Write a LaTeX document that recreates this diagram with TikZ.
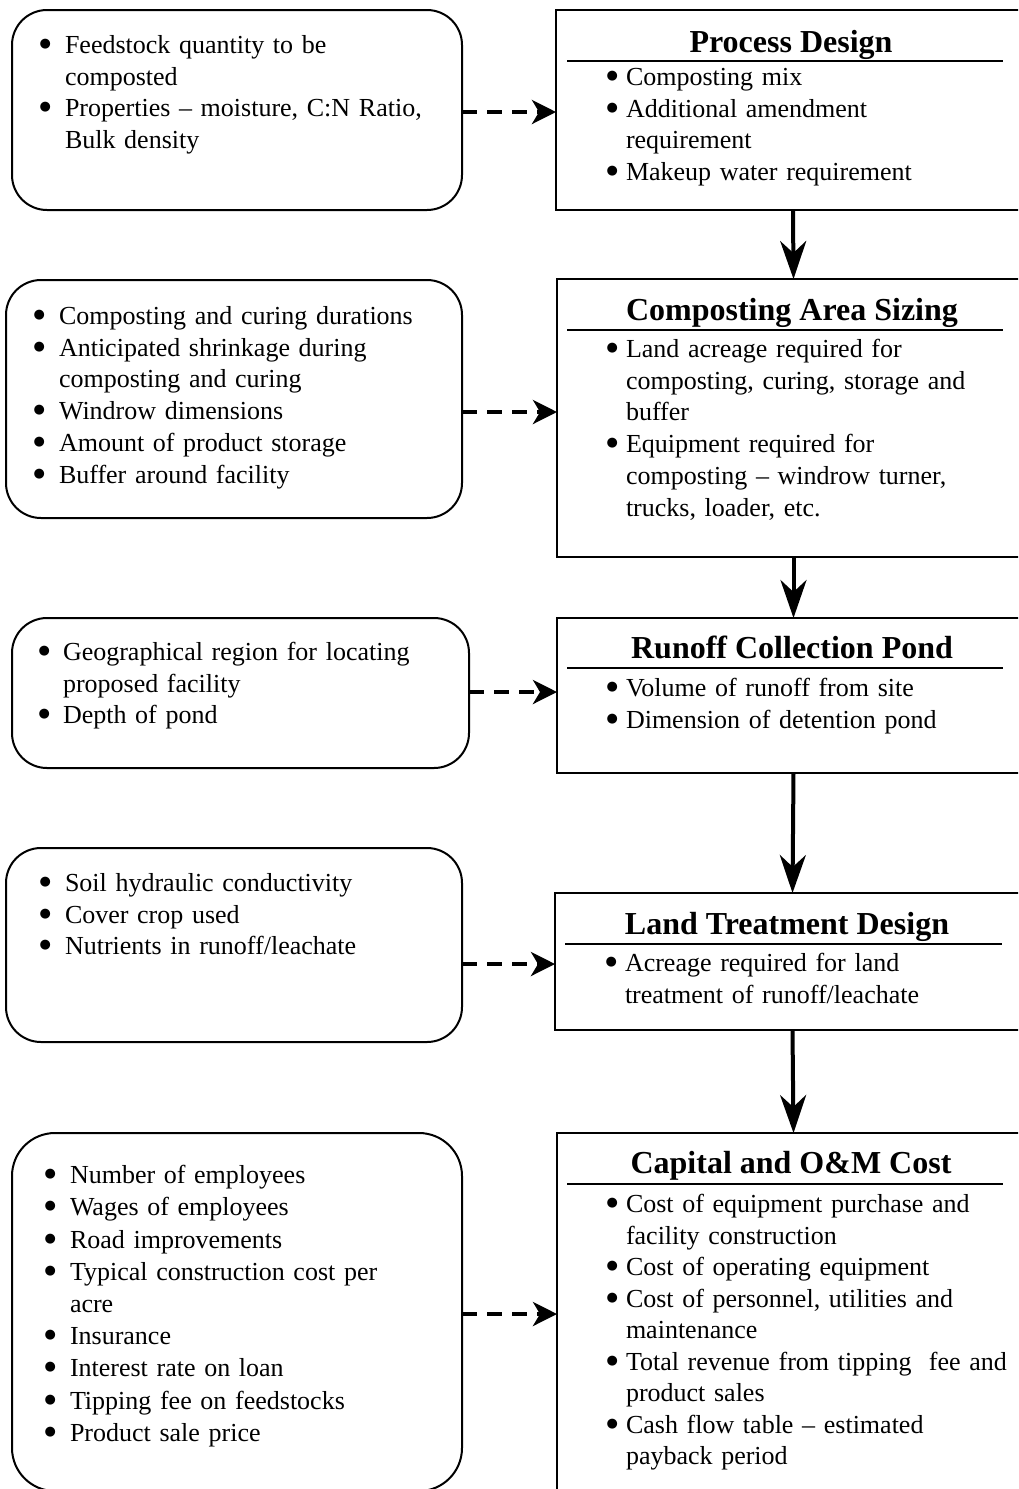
\documentclass[tikz,border=0pt]{standalone}
\usepackage{fontspec}
\setmainfont{Liberation Serif}
\newfontfamily\symfont{DejaVu Sans}
\usetikzlibrary{arrows.meta}
\newlength\bgap
\newcommand\bigbullet{\raisebox{6pt}{\symfont\fontsize{13pt}{0pt}\selectfont ●}}
\newcommand\bitem[1]{\par\noindent\llap{\bigbullet\hspace{\bgap}}\strut#1\par}
\begin{document}
\begin{tikzpicture}[x=1pt,y=-1pt,
  every node/.style={inner sep=0pt, outer sep=0pt},
  inbox/.style={draw, line width=2pt, rounded corners=35pt},
  outbox/.style={draw, line width=2pt},
  ttl/.style={anchor=base, font=\fontsize{32pt}{36pt}\selectfont\bfseries},
  items/.style={anchor=north west, align=left, text width=400pt, font=\fontsize{26pt}{31.7pt}\selectfont},
  titlerule/.style={line width=2.5pt},
  flow/.style={line width=4pt, -{Stealth[length=38pt,width=26pt,inset=12pt]}},
  feed/.style={line width=4pt, dash pattern=on 15pt off 10pt, -{Stealth[length=24pt,width=24pt,inset=7pt]}},
]
\clip (0,0) rectangle (1018,1489);
\fill[white] (0,0) rectangle (1018,1489);

% boxes
\node[inbox, minimum width=450pt, minimum height=200pt] (l1) at (237,110) {};
\node[outbox, minimum width=474pt, minimum height=200pt] (r1) at (793,110) {};
\node[inbox, minimum width=456pt, minimum height=238pt] (l2) at (234,399) {};
\node[outbox, minimum width=473pt, minimum height=278pt] (r2) at (793.5,418) {};
\node[inbox, minimum width=457pt, minimum height=150pt] (l3) at (240.5,693) {};
\node[outbox, minimum width=473pt, minimum height=155pt] (r3) at (793.5,695.5) {};
\node[inbox, minimum width=456pt, minimum height=194pt] (l4) at (234,945) {};
\node[outbox, minimum width=475pt, minimum height=137pt] (r4) at (792.5,961.5) {};
\node[inbox, rounded corners=43pt, minimum width=450pt, minimum height=358pt] (l5) at (237,1312) {};
\node[outbox, minimum width=473pt, minimum height=367pt] (r5) at (793.5,1316.5) {};

% titles and rules
\node[ttl] (t1) at (791,52) {Process Design};
\node[ttl] (t2) at (792,320) {Composting Area Sizing};
\node[ttl] (t3) at (792,658) {Runoff Collection Pond};
\node[ttl] (t4) at (787,934) {Land Treatment Design};
\node[ttl] (t5) at (791,1173) {Capital and O\&M Cost};
\draw[titlerule] (567,61) -- (1003,61);
\draw[titlerule] (567,330) -- (1003,330);
\draw[titlerule] (567,668) -- (1003,668);
\draw[titlerule] (565,944) -- (1002,944);
\draw[titlerule] (567,1184) -- (1003,1184);

% left texts
\node[items] (x1) at (65,21.8) {\setlength\bgap{14pt}%
\bitem{Feedstock quantity to be\\composted}
\bitem{Properties – moisture, C:N Ratio,\\Bulk density}};
\node[items] (x2) at (59,292.8) {\setlength\bgap{14pt}%
\bitem{Composting and curing durations}
\bitem{Anticipated shrinkage during\\composting and curing}
\bitem{Windrow dimensions}
\bitem{Amount of product storage}
\bitem{Buffer around facility}};
\node[items] (x3) at (63,628.8) {\setlength\bgap{13pt}%
\bitem{Geographical region for locating\\proposed facility}
\bitem{Depth of pond}};
\node[items] (x4) at (65,859.8) {\setlength\bgap{14pt}%
\bitem{Soil hydraulic conductivity}
\bitem{Cover crop used}
\bitem{Nutrients in runoff/leachate}};
\node[items, font=\fontsize{26pt}{32.2pt}\selectfont] (x5) at (70,1151.5) {\setlength\bgap{14pt}%
\bitem{Number of employees}
\bitem{Wages of employees}
\bitem{Road improvements}
\bitem{Typical construction cost per\\acre}
\bitem{Insurance}
\bitem{Interest rate on loan}
\bitem{Tipping fee on feedstocks}
\bitem{Product sale price}};

% right texts
\node[items] (y1) at (626,53.8) {\setlength\bgap{8pt}%
\bitem{Composting mix}
\bitem{Additional amendment\\requirement}
\bitem{Makeup water requirement}};
\node[items] (y2) at (626,325.8) {\setlength\bgap{8pt}%
\bitem{Land acreage required for\\composting, curing, storage and\\buffer}
\bitem{Equipment required for\\composting – windrow turner,\\trucks, loader, etc.}};
\node[items] (y3) at (626,664.8) {\setlength\bgap{8pt}%
\bitem{Volume of runoff from site}
\bitem{Dimension of detention pond}};
\node[items] (y4) at (625,939.8) {\setlength\bgap{8pt}%
\bitem{Acreage required for land\\treatment of runoff/leachate}};
\node[items, font=\fontsize{26pt}{31.5pt}\selectfont] (y5) at (626,1181) {\setlength\bgap{8pt}%
\bitem{Cost of equipment purchase and\\facility construction}
\bitem{Cost of operating equipment}
\bitem{Cost of personnel, utilities and\\maintenance}
\bitem{Total revenue from tipping\ \ fee and\\product sales}
\bitem{Cash flow table – estimated\\payback period}};

% connectors
\draw[flow] (r1.south) -- (r2.north);
\draw[flow] (r2.south) -- (r3.north);
\draw[flow] (r3.south) -- (r4.north);
\draw[flow] (r4.south) -- (r5.north);
\draw[feed] (l1.east |- 0,112) -- (r1.west |- 0,112);
\draw[feed] (l2.east |- 0,412) -- (r2.west |- 0,412);
\draw[feed] (l3.east |- 0,692) -- (r3.west |- 0,692);
\draw[feed] (l4.east |- 0,964) -- (r4.west |- 0,964);
\draw[feed] (l5.east |- 0,1314) -- (r5.west |- 0,1314);
\end{tikzpicture}
\end{document}
